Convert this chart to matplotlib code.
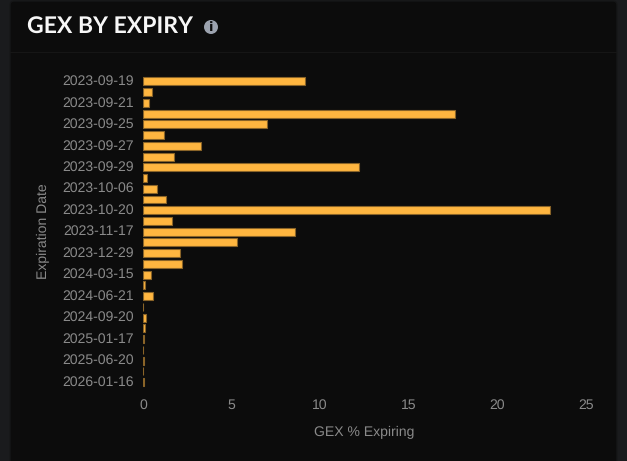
import matplotlib
matplotlib.use("Agg")
import matplotlib.pyplot as plt
from matplotlib.patches import FancyBboxPatch, Circle, Rectangle
from matplotlib.transforms import ScaledTranslation

W, H = 627, 461
categories = ["2023-09-19", "2023-09-20", "2023-09-21", "2023-09-22", "2023-09-25", "2023-09-26",
              "2023-09-27", "2023-09-28", "2023-09-29", "2023-10-02", "2023-10-06", "2023-10-13",
              "2023-10-20", "2023-10-27", "2023-11-17", "2023-12-15", "2023-12-29", "2024-01-19",
              "2024-03-15", "2024-03-28", "2024-06-21", "2024-06-28", "2024-09-20", "2024-12-20",
              "2025-01-17", "2025-03-21", "2025-06-20", "2025-12-19", "2026-01-16"]
values = [9.14, 0.52, 0.35, 17.62, 7.0, 1.16, 3.28, 1.73, 12.18, 0.24, 0.79, 1.31, 22.97, 1.65, 8.56,
          5.28, 2.11, 2.21, 0.43, 0.12, 0.56, 0.02, 0.18, 0.12, 0.05, 0.02, 0.05, 0.02, 0.04]
x_ticks = [0, 5, 10, 15, 20, 25]

TXT = "#8a8a8a"
plt.rcParams["font.family"] = ["Liberation Sans", "DejaVu Sans"]
plt.rcParams["text.hinting"] = "no_hinting"
plt.rcParams["text.hinting_factor"] = 1
fig = plt.figure(figsize=(W / 100, H / 100), dpi=100, facecolor="#1a1b1d")

bg = fig.add_axes([0, 0, 1, 1], zorder=0)
bg.set_xlim(0, W); bg.set_ylim(H, 0); bg.axis("off")
bg.add_patch(FancyBboxPatch((10, 1), 607, 480, boxstyle="round,pad=0,rounding_size=4",
                            fc="#0c0c0c", ec="#161718", lw=1))
bg.add_patch(Rectangle((10, 52), 607, 1, fc="#161616", ec="none"))
bg.text(27, 27.5, "GEX BY EXPIRY", color="#f7f7f7", fontsize=16.9, family="Lato",
        fontweight="bold", va="center", ha="left")
bg.add_patch(Circle((211, 27), 7, fc="#9ca3af", ec="none"))
bg.text(211, 27, "i", color="#0c0c0c", fontsize=9, fontweight="bold", family="DejaVu Sans",
        ha="center", va="center")

top, bottom, left, right = 76, 388, 143, 586
ax = fig.add_axes([left / W, 1 - bottom / H, (right - left) / W, (bottom - top) / H], zorder=1)
ax.patch.set_alpha(0)
ypos = list(range(len(categories)))
ax.barh(ypos, values, height=0.74, color="#ffb640", edgecolor="#8a6428", linewidth=0.8)
ax.set_xlim(0, 25)
ax.set_ylim(len(categories) - 1 + (bottom - 382.0) / 10.74, -(81.4 - top) / 10.74)
ax.set_xticks(x_ticks)
ax.set_yticks(ypos[::2], categories[::2])
for s in ax.spines.values():
    s.set_visible(False)
ax.tick_params(length=0, colors=TXT, labelsize=10)
ax.tick_params(axis="y", pad=6.4)
ax.tick_params(axis="x", pad=8)
lift = ScaledTranslation(0, 1.5 / 100, fig.dpi_scale_trans)
for lab in ax.get_yticklabels():
    lab.set_transform(lab.get_transform() + lift)
bg.text(364.5, 432.5, "GEX % Expiring", color=TXT, fontsize=10, ha="center", va="center")
bg.text(43, 231, "Expiration Date", color=TXT, fontsize=10, rotation=90, ha="center", va="center")
fig.savefig("out.png", dpi=100, facecolor=fig.get_facecolor())
